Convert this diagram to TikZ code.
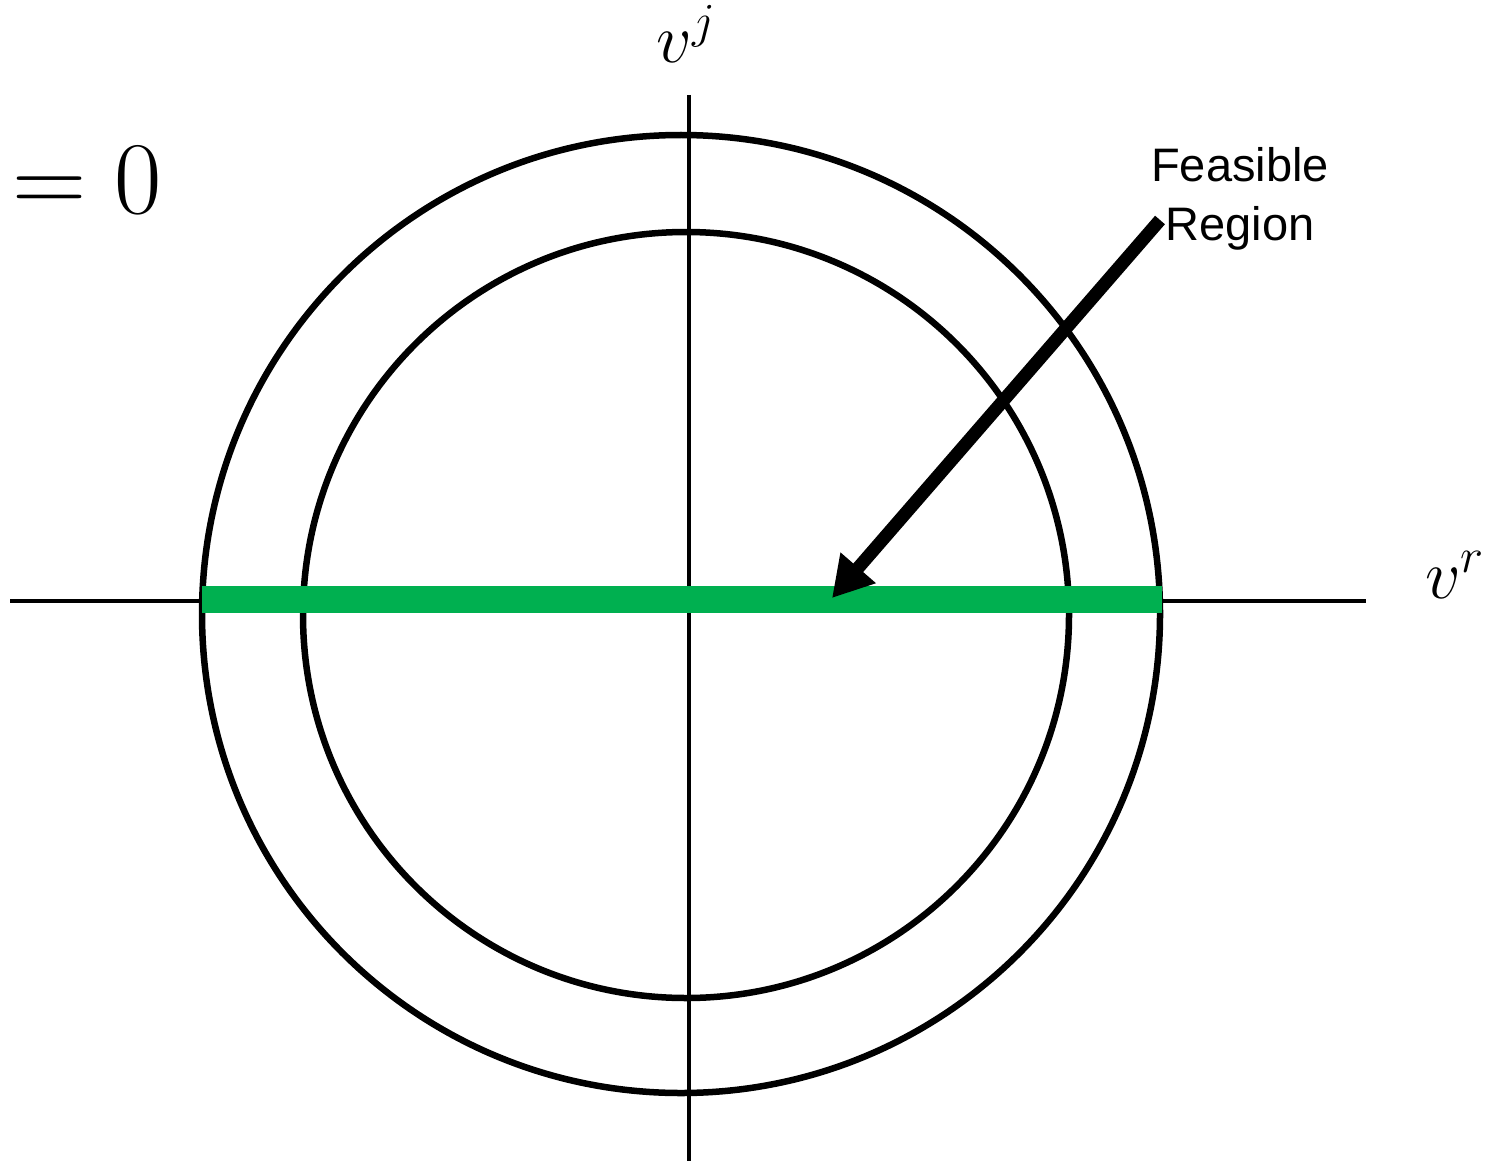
\RequirePackage{fix-cm}
\documentclass[tikz,border=0pt]{standalone}
\usepackage{fontspec}
\newfontfamily\arialfont{Liberation Sans}
\usetikzlibrary{arrows.meta}
\definecolor{feasgreen}{RGB}{0,176,80}
\begin{document}
\begin{tikzpicture}[x=1pt,y=-1pt,
  axisline/.style={line width=4.5pt},
  ring/.style={line width=6.5pt},
  feasbar/.style={line width=27pt,feasgreen},
  pointer/.style={line width=13pt,-{Triangle[length=40pt,width=44pt]}},
  lbl/.style={inner sep=0pt}]
\useasboundingbox (0,0) rectangle (1495,1161);
\coordinate (Oout) at (681,614);
\coordinate (Oin) at (686,615);
% axes
\coordinate (xl) at (10,601);
\coordinate (xr) at (1366,601);
\coordinate (yt) at (689,95);
\coordinate (yb) at (689,1161);
\draw[axisline] (xl) -- (xr);
\draw[axisline] (yt) -- (yb);
% circles
\draw[ring] (Oout) circle [radius=479];
\draw[ring] (Oin) circle [radius=383];
% feasible bar
\coordinate (gl) at (202,599.5);
\coordinate (gr) at (1162,599.5);
\draw[feasbar] (gl) -- (gr);
% arrow
\coordinate (as) at (1160,220);
\coordinate (at) at (832,598);
\draw[pointer] (as) -- (at);
% labels
\node[lbl,anchor=base west] (eq) at (12,213) {\fontsize{103}{115}\selectfont $=0$};
\node[lbl,anchor=base] (vj) at (686,63) {\fontsize{70}{75}\selectfont $v^j$};
\node[lbl,anchor=base west] (vr) at (1425,598) {\fontsize{70}{75}\selectfont $v^r$};
\node[lbl,anchor=base] (f1) at (1240,182) {\arialfont\fontsize{47}{50}\selectfont Feasible};
\node[lbl,anchor=base] (f2) at (1240,240) {\arialfont\fontsize{47}{50}\selectfont Region};
\end{tikzpicture}
\end{document}
